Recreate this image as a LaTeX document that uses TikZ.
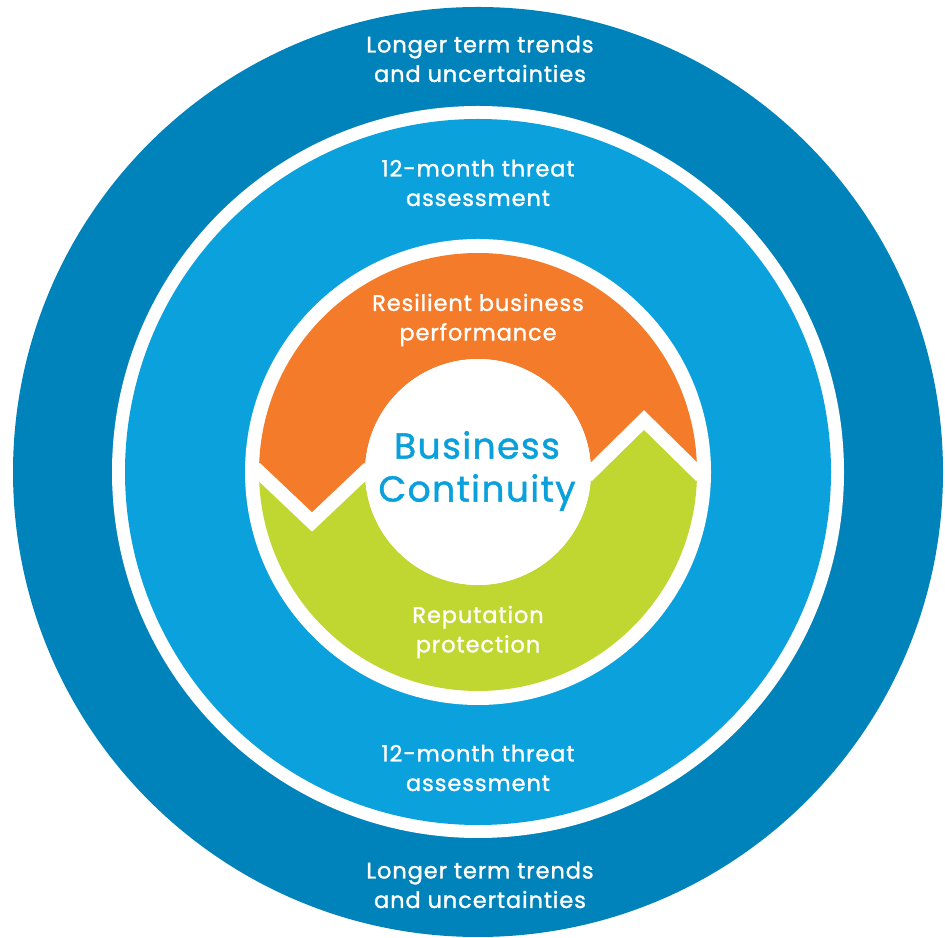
\documentclass[tikz,border=0pt]{standalone}
\usepackage{fontspec}
\setmainfont{Poppins}[FakeBold=1.3, LetterSpace=4]
\usetikzlibrary{calc}
\definecolor{darkblue}{HTML}{0082BA}
\definecolor{lightblue}{HTML}{0BA1DC}
\definecolor{orangeseg}{HTML}{F47B2A}
\definecolor{greenseg}{HTML}{C0D731}
\definecolor{textblue}{HTML}{0AA0DB}
\tikzset{
  ringlabel/.style={text=white, align=center, font=\fontsize{22.5}{29.5}\selectfont, inner sep=0pt},
  centrelabel/.style={text=textblue, align=center, font=\fontsize{36}{43}\selectfont, inner sep=0pt},
  gapline/.style={draw=white, line width=14pt}
}
\begin{document}
\begin{tikzpicture}[x=1pt,y=1pt]
\useasboundingbox (0,0) rectangle (945,937);
\coordinate (c) at (478,465);
\fill[darkblue] (c) circle[radius=465];
\fill[white] (c) circle[radius=366];
\fill[lightblue] (c) circle[radius=353];
\fill[white] (c) circle[radius=233];
\begin{scope}[shift={(478,465)}]
  \coordinate (lo) at (-219,0);
  \coordinate (lt) at (-166,-50);
  \coordinate (li) at (-113,0);
  \coordinate (ri) at (113,0);
  \coordinate (rt) at (166,52);
  \coordinate (ro) at (219,0);
  \fill[orangeseg] (lo) -- (lt) -- (li) arc[start angle=180,end angle=0,radius=113]
     -- (rt) -- (ro) arc[start angle=0,end angle=180,radius=219] -- cycle;
  \fill[greenseg] (lo) -- (lt) -- (li) arc[start angle=180,end angle=360,radius=113]
     -- (rt) -- (ro) arc[start angle=0,end angle=-180,radius=219] -- cycle;
  \draw[gapline] ($(lo)+(-4,4)$) -- (lt) -- ($(li)+(4,4)$);
  \draw[gapline] ($(ri)+(-4,-4)$) -- (rt) -- ($(ro)+(4,-4)$);
  \fill[white] (0,0) circle[radius=113];
\end{scope}
\node[ringlabel] (ltop) at (480,878) {Longer term trends\\and uncertainties};
\node[ringlabel] (mtop) at (478,754) {12-month threat\\assessment};
\node[ringlabel] (res) at (478,617) {Resilient business\\performance};
\node[centrelabel] (bc) at (477,466) {Business\\Continuity};
\node[ringlabel] (rep) at (478,305) {Reputation\\protection};
\node[ringlabel] (mbot) at (478,169) {12-month threat\\assessment};
\node[ringlabel] (lbot) at (480,52) {Longer term trends\\and uncertainties};
\end{tikzpicture}
\end{document}
